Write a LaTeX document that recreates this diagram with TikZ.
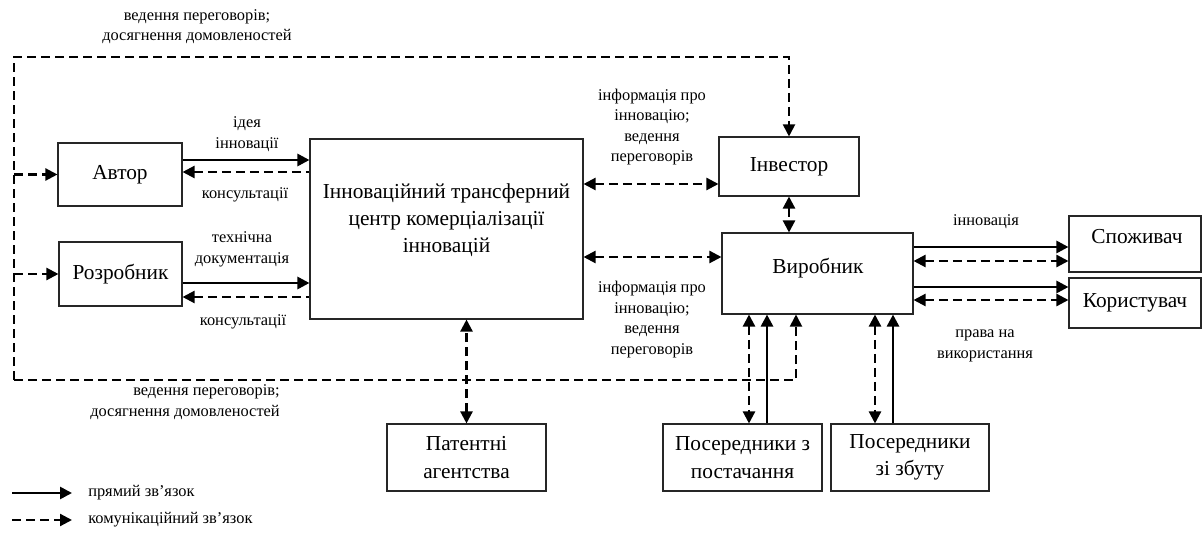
\documentclass[tikz,border=0pt]{standalone}
\usepackage{fontspec}
\setmainfont{Liberation Serif}
\usetikzlibrary{arrows.meta,calc}
\def\hlink[#1](#2)(#3)(#4){\coordinate (hy) at (0,#4); \draw[#1] (#2.east |- hy) -- (#3.west |- hy);}
\def\vlink[#1](#2)(#3)(#4){\coordinate (vx) at (#4,0); \draw[#1] (vx |- #2.south) -- (vx |- #3.north);}
\tikzset{
	box/.style={draw=black!85, line width=0.8pt, inner sep=0pt, align=center, font=\fontsize{16}{20.5}\selectfont},
	boxtxt/.style={align=center, inner sep=0pt, font=\fontsize{16}{20.5}\selectfont},
	lbl/.style={align=center, inner sep=0pt, font=\fontsize{12.3}{15.3}\selectfont},
	direct/.style={line width=2pt},
	comm/.style={line width=1.7pt, dash pattern=on 6.5pt off 4pt},
	>={Triangle[length=9pt,width=9pt]}
}

\begin{document}
\begin{tikzpicture}[x=0.75pt,y=-0.75pt]
		%%%%% START %%%%%
		\useasboundingbox (0,0) rectangle (1203,538);
		
		\node[box, minimum width=93pt, minimum height=47.25pt] (avtor) at (120,174.5) {Автор};
		\node[box, minimum width=92.25pt, minimum height=48pt] (rozrob) at (120.5,274) {Розробник};
		
		\node[box, minimum width=204.75pt, minimum height=135pt] (centr) at (446.5,229) {};
		\node[boxtxt] (centr-txt) at (446.5,220) {Інноваційний трансферний\\центр комерціалізації\\інновацій};
		
		\node[box, minimum width=105pt, minimum height=44.25pt] (inv) at (789,166.5) {Інвестор};
		\node[box, minimum width=143.25pt, minimum height=60.75pt] (vyr) at (817.5,273.5) {};
		\node[boxtxt] (vyr-txt) at (818,268) {Виробник};
		
		\node[box, minimum width=99pt, minimum height=42pt] (spozh) at (1135,244) {};
		\node[boxtxt] (spozh-txt) at (1137,237) {Споживач};
		\node[box, minimum width=99pt, minimum height=37.5pt] (korys) at (1135,303) {Користувач};
		
		\node[box, minimum width=119.25pt, minimum height=50.25pt] (pat) at (466.5,457.5) {Патентні\\агентства};
		\node[box, minimum width=119.25pt, minimum height=50.25pt] (post) at (742.5,457.5) {Посередники з\\постачання};
		\node[box, minimum width=118.5pt, minimum height=50.25pt] (zbut) at (910,457.5) {Посередники\\зі збуту};
		
		% author, developer
		\hlink[direct,->](avtor)(centr)(160);
		\hlink[comm,<-](avtor)(centr)(172);
		\hlink[direct,->](rozrob)(centr)(283);
		\hlink[comm,<-](rozrob)(centr)(297);
		
		\node[lbl] (l-ideya) at (247,134) {ідея\\інновації};
		\node[lbl] (l-kons1) at (245,195) {консультації};
		\node[lbl] (l-tekh) at (242,249.5) {технічна\\документація};
		\node[lbl] (l-kons2) at (243,322) {консультації};
		
		% investor, producer
		\hlink[comm,<->](centr)(inv)(184);
		\hlink[comm,<->](centr)(vyr)(257);
		\draw[comm,<->] (inv.south) -- (inv.south |- vyr.north);
		
		\node[lbl] (l-info1) at (652,127) {інформація про\\інновацію;\\ведення\\переговорів};
		\node[lbl] (l-info2) at (652,319.5) {інформація про\\інновацію;\\ведення\\переговорів};
		
		% consumers
		\hlink[direct,->](vyr)(spozh)(247);
		\hlink[comm,<->](vyr)(spozh)(261);
		\hlink[direct,->](vyr)(korys)(287);
		\hlink[comm,<->](vyr)(korys)(300);
		
		\node[lbl] (l-innov) at (986,222) {інновація};
		\node[lbl] (l-prava) at (985,346) {права на\\використання};
		
		% bottom row
		\draw[comm,<->] (pat.north) -- (pat.north |- centr.south);
		\vlink[comm,<->](vyr)(post)(749);
		\vlink[direct,<-](vyr)(post)(767);
		\vlink[comm,<->](vyr)(zbut)(875);
		\vlink[direct,<-](vyr)(zbut)(893);
		
		% negotiation loop
		\coordinate (lpt) at (14,57);
		\coordinate (lpb) at (14,380);
		\coordinate (lpx) at (796,380);
		\draw[comm,line width=1.4pt,->] (lpb) -- (lpt) -| (inv.north);
		\draw[comm,line width=1.4pt,->] (lpb) -- (lpx) -- (lpx |- vyr.south);
		\draw[comm,->] (avtor.west -| lpt) -- (avtor.west);
		\draw[comm,->] (rozrob.west -| lpt) -- (rozrob.west);
		
		\node[lbl] (l-top) at (197,26.5) {ведення переговорів;\\досягнення домовленостей};
		\node[lbl, align=right, anchor=east] (l-bot) at (280,402) {ведення переговорів;\\досягнення домовленостей};
		
		% legend
		\coordinate (lg1a) at (12,493);
		\coordinate (lg1b) at (72,493);
		\coordinate (lg2a) at (12,520);
		\coordinate (lg2b) at (72,520);
		\draw[direct,->] (lg1a) -- (lg1b);
		\draw[comm,->] (lg2a) -- (lg2b);
		\node[lbl, anchor=west] (lg1-txt) at (88,493) {прямий зв’язок};
		\node[lbl, anchor=west] (lg2-txt) at (88,520) {комунікаційний зв’язок};
		
		%%%%% END %%%%%
	\end{tikzpicture}
\end{document}
